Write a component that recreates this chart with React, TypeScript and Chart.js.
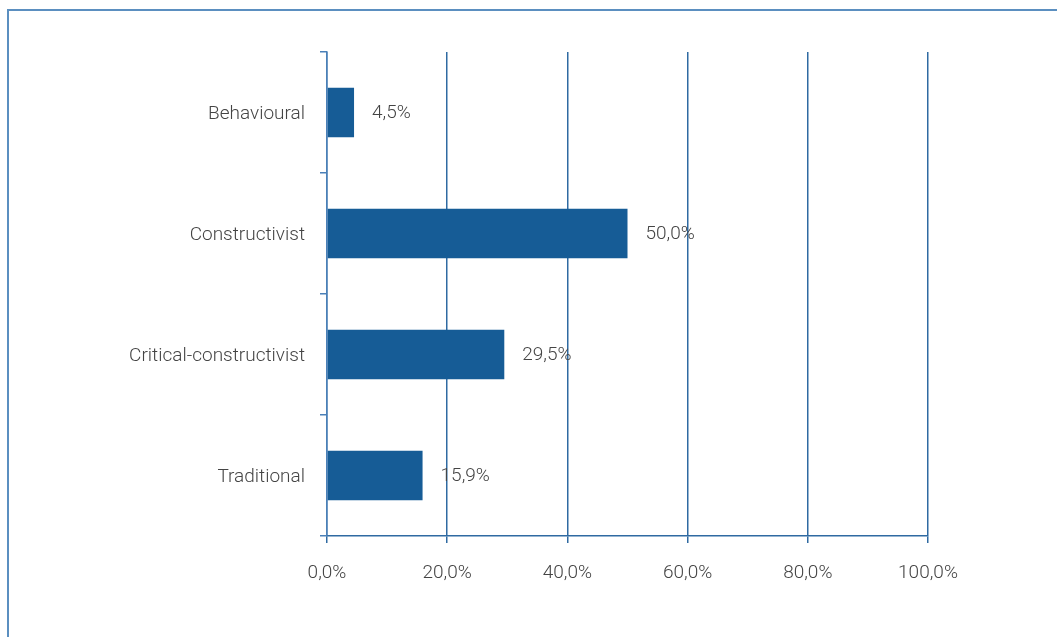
import React, { useEffect, useRef } from "react";
import { Chart, registerables } from "chart.js";

Chart.register(...registerables);

const categories = ["Behavioural", "Constructivist", "Critical-constructivist", "Traditional"];
const values = [4.5, 50.0, 29.5, 15.9];
const xTicks = [0, 20, 40, 60, 80, 100];

const fmt = (v: number) => v.toFixed(1).replace(".", ",") + "%";

const BAR = "#165c96";
const GRID = "#2f6aa2";
const AXIS = "#4a80b8";
const TEXT = "#444444";
const FONT = "Roboto, 'Open Sans', sans-serif";

export default function App() {
  const ref = useRef<HTMLCanvasElement | null>(null);

  useEffect(() => {
    document.body.style.margin = "0";
    const frame = {
      id: "frame",
      beforeDraw(chart: any) {
        const ctx = chart.ctx;
        ctx.save();
        ctx.strokeStyle = "#5b8fc0";
        ctx.lineWidth = 2;
        ctx.beginPath();
        ctx.moveTo(8, 640);
        ctx.lineTo(8, 10);
        ctx.lineTo(1060, 10);
        ctx.stroke();
        ctx.restore();
      },
    };
    const labels = {
      id: "vlabels",
      afterDatasetsDraw(chart: any) {
        const ctx = chart.ctx;
        const meta = chart.getDatasetMeta(0);
        ctx.save();
        ctx.font = `300 19px ${FONT}`;
        ctx.fillStyle = TEXT;
        ctx.textBaseline = "middle";
        ctx.textAlign = "left";
        meta.data.forEach((el: any, i: number) => {
          ctx.fillText(fmt(values[i]), el.x + 18, el.y + 1);
        });
        ctx.restore();
      },
    };
    const chart = new Chart(ref.current as HTMLCanvasElement, {
      type: "bar",
      data: {
        labels: categories,
        datasets: [
          {
            data: values,
            backgroundColor: BAR,
            borderWidth: 0,
            barPercentage: 0.41,
            categoryPercentage: 1,
          },
        ],
      },
      options: {
        indexAxis: "y",
        animation: false,
        responsive: false,
        devicePixelRatio: 1,
        layout: { padding: { left: 0, right: 129, top: 52, bottom: 0 } },
        plugins: { legend: { display: false }, tooltip: { enabled: false } },
        scales: {
          x: {
            min: 0,
            max: 100,
            afterBuildTicks(scale: any) {
              scale.ticks = xTicks.map((v) => ({ value: v }));
            },
            afterFit(scale: any) {
              scale.height = 101;
            },
            grid: {
              color: GRID,
              lineWidth: 1.5,
              tickLength: 7,
              drawOnChartArea: true,
            },
            border: { display: true, color: GRID, width: 1.5 },
            ticks: {
              padding: 19,
              color: TEXT,
              font: { family: FONT, size: 19, weight: 300 },
              callback: (v: any) => fmt(Number(v)),
            },
          },
          y: {
            afterFit(scale: any) {
              scale.width = 327;
            },
            grid: {
              offset: true,
              drawOnChartArea: false,
              color: AXIS,
              lineWidth: 1.5,
              tickLength: 7,
            },
            border: { display: true, color: AXIS, width: 1.5 },
            ticks: {
              padding: 15,
              labelOffset: 2,
              color: TEXT,
              font: { family: FONT, size: 19, weight: 300 },
            },
          },
        },
      },
      plugins: [frame, labels],
    });
    return () => chart.destroy();
  }, []);

  return (
    <div style={{ width: 1057, height: 637 }}>
      <canvas ref={ref} width={1057} height={637} style={{ display: "block" }} />
    </div>
  );
}
